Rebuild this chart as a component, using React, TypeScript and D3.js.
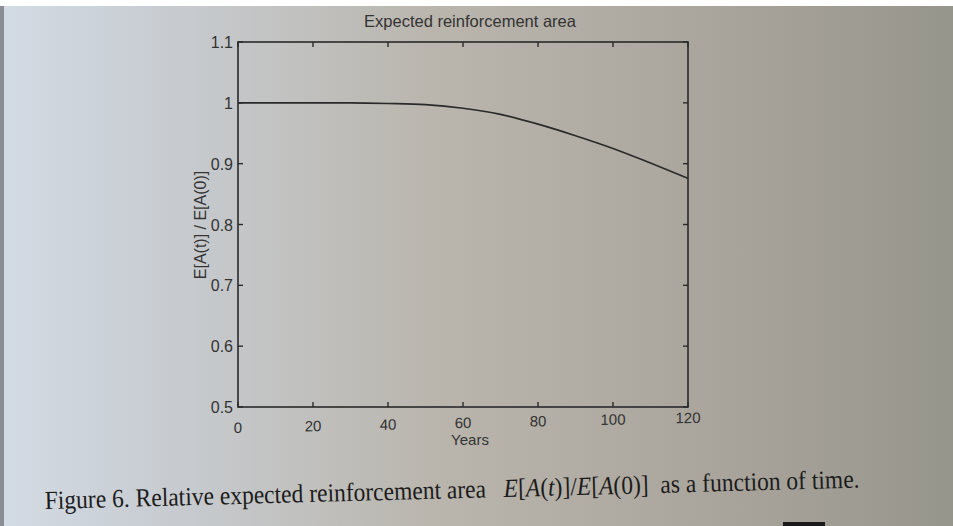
import React from "react";
import * as d3 from "d3";

const years = [0, 10, 20, 30, 40, 50, 60, 70, 80, 90, 100, 110, 120];
const ratio = [1.0, 1.0, 1.0, 1.0, 0.999, 0.997, 0.991, 0.981, 0.965, 0.946, 0.925, 0.901, 0.876];
const xTicks = [0, 20, 40, 60, 80, 100, 120];
const yTicks = [0.5, 0.6, 0.7, 0.8, 0.9, 1.0, 1.1];

const W = 953;
const H = 526;
const M = { left: 238, right: 688, top: 42, bottom: 407 };

export default function App() {
  const x = d3.scaleLinear().domain([0, 120]).range([M.left, M.right]);
  const y = d3.scaleLinear().domain([0.5, 1.1]).range([M.bottom, M.top]);
  const line = d3
    .line<number>()
    .x((_, i) => x(years[i]))
    .y((d) => y(d))
    .curve(d3.curveMonotoneX);
  const font = "Liberation Sans, Arial, sans-serif";
  const ink = "#2a2a2a";
  const tl = 5;
  const skew = -0.022;
  return (
    <svg width={W} height={H} style={{ position: "absolute", left: 0, top: 0 }}>
      <defs>
        <linearGradient id="paper" x1="0" y1="0" x2="1" y2="0">
          <stop offset="0" stopColor="#d3dbe4" />
          <stop offset="0.15" stopColor="#c9ced4" />
          <stop offset="0.45" stopColor="#bab6ae" />
          <stop offset="0.75" stopColor="#aaa59c" />
          <stop offset="1" stopColor="#96958c" />
        </linearGradient>
      </defs>
      <rect x={0} y={0} width={W} height={H} fill="url(#paper)" />
      <rect x={0} y={0} width={W} height={6} fill="#ffffff" />
      <rect x={0} y={6} width={4} height={H} fill="#8a8e94" />
      <rect x={783} y={522} width={42} height={4} fill="#1a1a1a" />

      <g>
        <rect
          x={M.left}
          y={M.top}
          width={M.right - M.left}
          height={M.bottom - M.top}
          fill="none"
          stroke={ink}
          strokeWidth={1.6}
        />
        {xTicks.map((t) => (
          <g key={"x" + t}>
            <line x1={x(t)} x2={x(t)} y1={M.bottom} y2={M.bottom - tl} stroke={ink} strokeWidth={1.4} />
            <line x1={x(t)} x2={x(t)} y1={M.top} y2={M.top + tl} stroke={ink} strokeWidth={1.4} />
          </g>
        ))}
        <g transform={`matrix(1,${skew},0,1,0,${-skew * M.left})`}>
          {xTicks.map((t) => (
            <text
              key={"xl" + t}
              x={x(t)}
              y={M.bottom + 26}
              textAnchor="middle"
              fontFamily={font}
              fontSize={15}
              fill="#333"
            >
              {t}
            </text>
          ))}
        </g>
        {yTicks.map((t) => (
          <g key={"y" + t}>
            <line x1={M.left} x2={M.left + tl} y1={y(t)} y2={y(t)} stroke={ink} strokeWidth={1.4} />
            <line x1={M.right} x2={M.right - tl} y1={y(t)} y2={y(t)} stroke={ink} strokeWidth={1.4} />
            <text
              x={M.left - 5}
              y={y(t) + 6}
              textAnchor="end"
              fontFamily={font}
              fontSize={16}
              fill="#333"
            >
              {d3.format("~g")(t)}
            </text>
          </g>
        ))}
        <path d={line(ratio) || ""} fill="none" stroke={ink} strokeWidth={1.6} />
        <text x={470} y={27} textAnchor="middle" fontFamily={font} fontSize={16.5} fill="#333">
          Expected reinforcement area
        </text>
        <text x={470} y={445} textAnchor="middle" fontFamily={font} fontSize={15} fill="#333">
          Years
        </text>
        <text
          transform={`translate(206,225) rotate(-90)`}
          textAnchor="middle"
          fontFamily={font}
          fontSize={16}
          fill="#333"
        >
          E[A(t)] / E[A(0)]
        </text>
      </g>

      <text
        transform="translate(45,509) rotate(-1.5)"
        fontFamily="Liberation Serif, Times New Roman, serif"
        fontSize={26}
        fill="#1c1c1c"
        textLength={815}
        lengthAdjust="spacingAndGlyphs"
      >
        Figure 6. Relative expected reinforcement area{"\u00a0\u00a0\u00a0"}
        <tspan fontStyle="italic">E</tspan>[<tspan fontStyle="italic">A</tspan>(<tspan fontStyle="italic">t</tspan>)]/<tspan fontStyle="italic">E</tspan>[<tspan fontStyle="italic">A</tspan>(0)]{"\u00a0\u00a0"}as a function of time.
      </text>
    </svg>
  );
}
